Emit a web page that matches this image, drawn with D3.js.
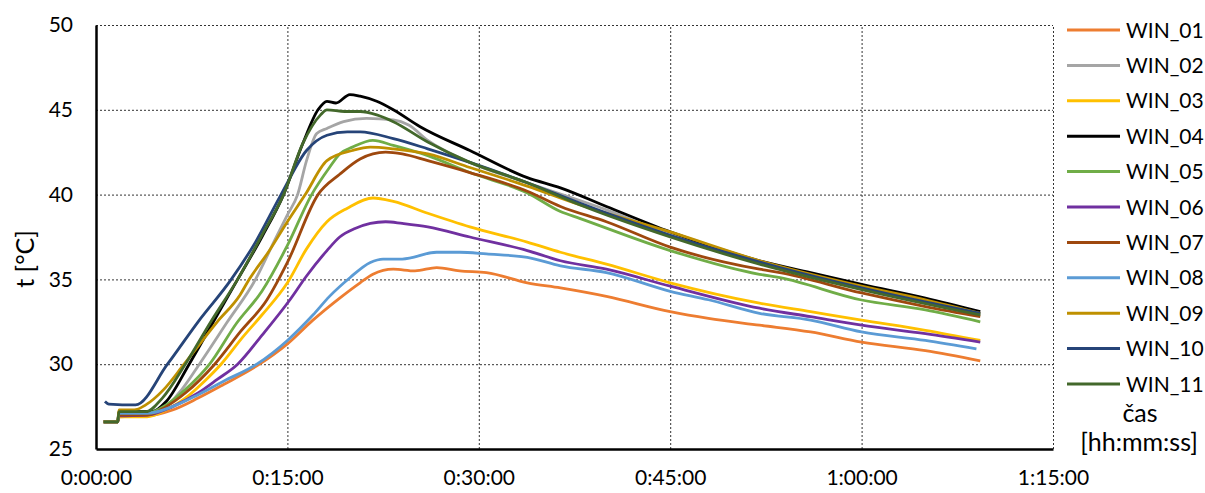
<!DOCTYPE html>
<html>
<head>
<meta charset="utf-8">
<script src="https://cdn.jsdelivr.net/npm/d3@7"></script>
<style>
  body { margin: 0; background: #fff; }
  svg { display: block; }
</style>
</head>
<body>
<svg width="1205" height="493"></svg>
<script>
// time in minutes, temperature in °C
const win01 = [[0.6,26.6],[1.7,26.6],[1.8,26.9],[4,26.95],[6,27.3],[8,28.0],[10,28.8],[12.6,29.9],[15,31.2],[17,32.6],[19.1,33.9],[20.7,34.8],[21.7,35.3],[23.3,35.6],[25,35.5],[26.7,35.7],[28.5,35.5],[30.6,35.4],[33.8,34.8],[36.4,34.5],[40,34.0],[45,33.1],[48,32.7],[52,32.3],[56,31.9],[60,31.3],[65,30.8],[69.3,30.2]]
const win02 = [[0.6,26.6],[1.7,26.6],[1.8,27.2],[4.8,27.2],[6.5,28.3],[8.1,30.0],[10.3,32.5],[12.5,35.0],[14,37.3],[15,38.8],[15.8,40.0],[16.5,42.0],[17.3,43.6],[18.1,43.9],[19.4,44.3],[21.2,44.5],[23.3,44.4],[24.5,44.1],[26,43.2],[29.3,41.9],[33.8,40.7],[40,39.1],[45,37.6],[53.6,35.7],[60,34.5],[69.3,32.9]]
const win03 = [[0.6,26.6],[1.7,26.6],[1.8,26.9],[4,26.9],[5.5,27.3],[7,28.0],[8.5,29.0],[9.8,30.0],[11.5,31.6],[13,32.9],[15,34.8],[16.5,36.8],[18.1,38.4],[19.7,39.2],[21.7,39.8],[23.3,39.6],[26,38.9],[29.3,38.1],[33.8,37.2],[36.4,36.6],[40,35.9],[45,34.8],[52,33.6],[56,33.1],[60,32.6],[65,32.0],[69.3,31.4]]
const win04 = [[0.6,26.6],[1.7,26.6],[1.8,27.2],[4.4,27.2],[5.5,27.8],[7.3,30.0],[9.2,32.5],[11.1,35.0],[13,37.5],[14.7,40.0],[16.2,43.0],[17.4,45.0],[18.1,45.5],[18.8,45.4],[19.9,45.9],[20.7,45.8],[22,45.5],[23.3,45.0],[25.4,44.0],[29.3,42.6],[33.8,41.0],[36.4,40.4],[40,39.3],[45,37.8],[52,36.1],[56,35.4],[60,34.7],[65,33.9],[69.3,33.1]]
const win05 = [[0.6,26.6],[1.7,26.6],[1.8,27.1],[4,27.1],[5.5,27.6],[7,28.5],[8.9,30.0],[11,32.4],[13,34.3],[15,37.0],[16.9,40.0],[18.3,41.6],[19.1,42.4],[20.1,42.8],[21.7,43.2],[23.3,42.9],[26,42.3],[29.3,41.3],[33.8,40.1],[36.4,39.0],[37.9,38.6],[45,36.7],[52,35.3],[53.6,35.1],[59.9,33.8],[65,33.2],[69.3,32.5]]
const win06 = [[0.6,26.6],[1.7,26.6],[1.8,26.95],[4,27.0],[6,27.5],[8,28.3],[9.5,29.1],[11.1,30.0],[13,31.7],[15.2,33.8],[16.5,35.2],[18.1,36.7],[19.1,37.5],[20.3,38.0],[21.5,38.3],[22.7,38.4],[24,38.3],[26,38.1],[29.3,37.5],[33.8,36.7],[36.4,36.1],[40,35.6],[45,34.6],[52,33.3],[56,32.8],[60,32.3],[65,31.8],[69.3,31.3]]
const win07 = [[0.6,26.6],[1.7,26.6],[1.8,27.0],[4,27.0],[5.5,27.5],[7,28.3],[9.3,30.0],[11.3,31.9],[13.4,33.8],[15,36.0],[17.4,40.0],[19.1,41.2],[20.7,42.1],[22.7,42.5],[24,42.4],[26,42.0],[29.3,41.3],[33.8,40.2],[36.4,39.3],[40,38.4],[45,36.9],[52,35.6],[53.6,35.4],[60,34.2],[65,33.4],[69.3,32.8]]
const win08 = [[0.6,26.6],[1.7,26.6],[1.8,27.1],[4,27.1],[6,27.5],[8,28.2],[10,29.0],[12.6,30.0],[15,31.4],[17,32.9],[18.3,34.0],[19.9,35.1],[21.5,36.0],[22.5,36.2],[24,36.2],[26.7,36.6],[28.5,36.6],[30.6,36.5],[33.8,36.3],[36.4,35.8],[40,35.4],[45,34.3],[48,33.8],[52,33.0],[56,32.6],[60,31.9],[65,31.4],[69,30.9]]
const win09 = [[0.6,26.6],[1.7,26.6],[1.8,27.3],[3,27.3],[3.9,27.6],[5.3,28.5],[6.9,30.0],[9.5,32.5],[11.3,34.1],[12,35.0],[13.5,36.6],[15,38.4],[16.4,40.0],[18.1,42.0],[20.1,42.6],[21.5,42.8],[23.3,42.7],[26,42.4],[29.3,41.6],[33.8,40.5],[37.9,39.4],[45,37.8],[52,36.1],[60,34.6],[65,33.8],[69.3,33.0]]
const win10 = [[0.7,27.8],[1.0,27.65],[3.1,27.6],[5.6,30.0],[8.0,32.5],[10.6,35.0],[12.5,37.2],[14.5,40.0],[16.5,42.6],[18.1,43.5],[19.7,43.7],[20.7,43.7],[23.3,43.3],[26,42.7],[29.3,41.9],[33.8,40.7],[37.9,39.5],[45,37.6],[53.6,35.7],[60,34.5],[69.3,33.0]]
const win11 = [[0.6,26.6],[1.7,26.6],[1.8,27.2],[3.9,27.2],[5.2,28.0],[7.0,30.0],[9.0,32.5],[11.1,35.0],[13,37.6],[14.7,40.0],[16.2,43.0],[17.6,44.7],[18.1,45.0],[19.5,44.9],[20.7,44.9],[22,44.7],[23.3,44.3],[26,43.1],[29.3,41.9],[33.8,40.7],[37.9,39.4],[45,37.5],[52,35.9],[60,34.4],[69.3,32.9]]

const seriesNames = ['WIN_01','WIN_02','WIN_03','WIN_04','WIN_05','WIN_06','WIN_07','WIN_08','WIN_09','WIN_10','WIN_11']
const seriesData = [win01, win02, win03, win04, win05, win06, win07, win08, win09, win10, win11]
const seriesColors = ['#ED7D31','#A5A5A5','#FFC000','#000000','#70AD47','#7030A0','#9E480E','#5B9BD5','#BF9000','#264478','#43682B']

const xTicks = [0, 15, 30, 45, 60, 75]
const xTickLabels = ['0:00:00','0:15:00','0:30:00','0:45:00','1:00:00','1:15:00']
const yTicks = [25, 30, 35, 40, 45, 50]

const FONT = 'Lato, "Open Sans", sans-serif'
const FS = 21
const TITLE_FS = 25

const svg = d3.select('svg')
const margin = { left: 96, top: 25, right: 152, bottom: 44 }
const width = +svg.attr('width')
const height = +svg.attr('height')
const innerWidth = width - margin.left - margin.right
const innerHeight = height - margin.top - margin.bottom

svg.append('rect').attr('width', width).attr('height', height).attr('fill', '#fff')

const x = d3.scaleLinear().domain([0, 75]).range([0, innerWidth])
const y = d3.scaleLinear().domain([25, 50]).range([innerHeight, 0])

const g = svg.append('g')
    .attr('transform', `translate(${margin.left},${margin.top})`)

// dotted grid
g.append('g')
    .call(d3.axisLeft(y).tickValues(yTicks.slice(1)).tickSize(-innerWidth).tickFormat(''))
    .call(s => s.select('.domain').remove())
    .selectAll('line')
        .attr('stroke', '#333')
        .attr('stroke-dasharray', '2,2')

g.append('g')
    .attr('transform', `translate(0,${innerHeight})`)
    .call(d3.axisBottom(x).tickValues(xTicks.slice(1)).tickSize(-innerHeight).tickFormat(''))
    .call(s => s.select('.domain').remove())
    .selectAll('line')
        .attr('stroke', '#333')
        .attr('stroke-dasharray', '2,2')

// series
const line = d3.line()
    .x(d => x(d[0]))
    .y(d => y(d[1]))
    .curve(d3.curveMonotoneX)

seriesData.forEach((data, i) => {
    g.append('path')
        .datum(data)
        .attr('fill', 'none')
        .attr('stroke', seriesColors[i])
        .attr('stroke-width', 2.8)
        .attr('stroke-linejoin', 'round')
        .attr('d', line)
})

// axes
const yAxis = g.append('g')
    .call(d3.axisLeft(y).tickValues(yTicks).tickSize(0).tickPadding(23).tickSizeOuter(0))
    .attr('font-size', FS)
    .attr('font-family', FONT)
yAxis.select('.domain').attr('stroke', '#000').attr('stroke-width', 2.5)
yAxis.selectAll('text').attr('fill', '#000')

const xAxis = g.append('g')
    .attr('transform', `translate(0,${innerHeight})`)
    .call(d3.axisBottom(x).tickValues(xTicks).tickSize(0).tickPadding(21).tickSizeOuter(0)
        .tickFormat((d, i) => xTickLabels[i]))
    .attr('font-size', FS)
    .attr('font-family', FONT)
xAxis.select('.domain').attr('stroke', '#000').attr('stroke-width', 2.5)
xAxis.selectAll('text').attr('fill', '#000')

svg.append('text')
    .attr('transform', 'translate(34,259) rotate(-90)')
    .attr('text-anchor', 'middle')
    .attr('font-family', FONT)
    .attr('font-size', TITLE_FS)
    .text('t [°C]')

// legend
const legend = svg.append('g')
    .attr('transform', 'translate(1067,30)')
    .attr('font-family', FONT)
    .attr('font-size', FS)
seriesNames.forEach((name, i) => {
    const row = legend.append('g').attr('transform', `translate(0,${i * 35.4})`)
    row.append('line')
        .attr('x1', 0).attr('x2', 53)
        .attr('stroke', seriesColors[i])
        .attr('stroke-width', 3)
    row.append('text')
        .attr('x', 59)
        .attr('y', 7.5)
        .text(name)
})

const xTitle = svg.append('g')
    .attr('font-family', FONT)
    .attr('font-size', TITLE_FS)
    .attr('text-anchor', 'middle')
xTitle.append('text').attr('x', 1140).attr('y', 422).text('čas')
xTitle.append('text').attr('x', 1139).attr('y', 451).text('[hh:mm:ss]')
</script>
</body>
</html>
